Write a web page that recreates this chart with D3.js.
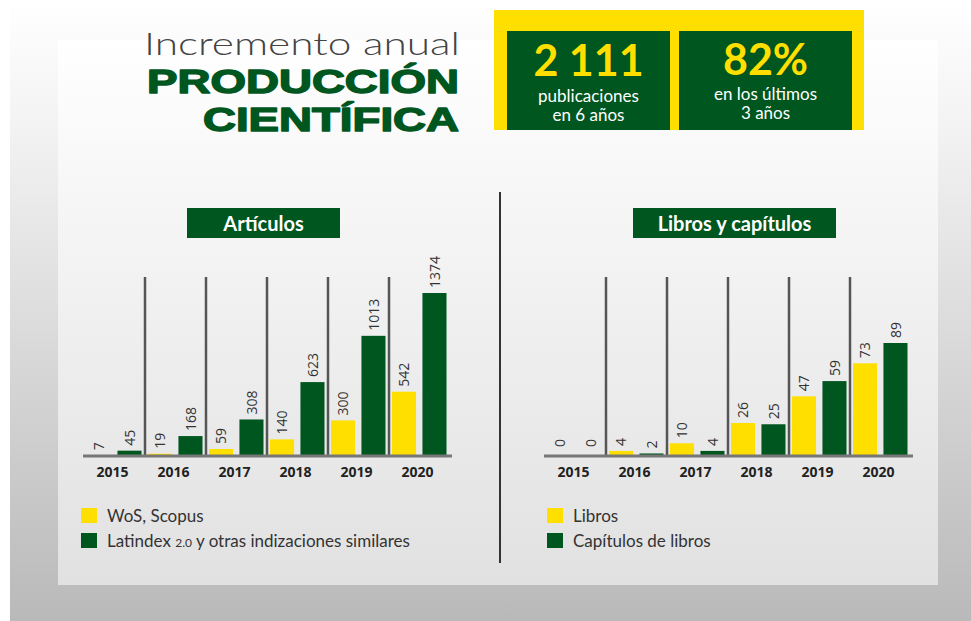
<!DOCTYPE html>
<html>
<head>
  <meta charset="utf-8">
  <title>Incremento anual - Producción científica</title>
  <script src="https://d3js.org/d3.v7.min.js"></script>
  <style>
    body { margin: 0; background: #fff; }
    svg { display: block; }
    .val { font-family: "Open Sans", sans-serif; font-size: 14px; fill: #333; }
    .year text { font-family: "Open Sans", sans-serif; font-weight: 700; font-size: 14px; fill: #222; }
    .legend { font-family: Lato, sans-serif; font-size: 17px; fill: #333; }
  </style>
</head>
<body>
  <div id="chart"></div>

  <script>
    // data
    const years = ["2015", "2016", "2017", "2018", "2019", "2020"];
    const wosScopus = [7, 19, 59, 140, 300, 542];
    const latindex = [45, 168, 308, 623, 1013, 1374];
    const libros = [0, 4, 10, 26, 47, 73];
    const capitulos = [0, 2, 4, 25, 59, 89];

    const totalPubs = "2 111";
    const growth = "82%";

    const green = "#00561f";
    const yellow = "#ffdf00";

    const width = 971, height = 621;

    const svg = d3.select("#chart")
      .append("svg")
      .attr("width", width)
      .attr("height", height);

    // background gradients
    const defs = svg.append("defs");
    const outer = defs.append("linearGradient")
      .attr("id", "outerGrad")
      .attr("gradientUnits", "userSpaceOnUse")
      .attr("x1", 0).attr("y1", 0).attr("x2", 0).attr("y2", height);
    outer.append("stop").attr("offset", 0).attr("stop-color", "#ffffff");
    outer.append("stop").attr("offset", 0.2).attr("stop-color", "#f3f3f3");
    outer.append("stop").attr("offset", 1).attr("stop-color", "#b9b9b9");

    const inner = defs.append("linearGradient")
      .attr("id", "innerGrad")
      .attr("gradientUnits", "userSpaceOnUse")
      .attr("x1", 0).attr("y1", 40).attr("x2", 0).attr("y2", 585);
    inner.append("stop").attr("offset", 0).attr("stop-color", "#ffffff");
    inner.append("stop").attr("offset", 1).attr("stop-color", "#e1e1e1");

    svg.append("rect").attr("width", width).attr("height", height).attr("fill", "#fff");
    svg.append("rect").attr("x", 10).attr("y", 0).attr("width", width - 10).attr("height", height)
      .attr("fill", "url(#outerGrad)");
    svg.append("rect").attr("x", 58).attr("y", 40).attr("width", 880).attr("height", 545)
      .attr("fill", "url(#innerGrad)");

    // header
    svg.append("text")
      .attr("x", 460).attr("y", 55)
      .attr("text-anchor", "end")
      .attr("textLength", 316).attr("lengthAdjust", "spacingAndGlyphs")
      .style("font-family", "Lato, sans-serif").style("font-weight", 300)
      .style("font-size", "31px").style("fill", "#444")
      .text("Incremento anual");

    [["PRODUCCIÓN", 93, 312], ["CIENTÍFICA", 131, 256]].forEach(function(h) {
      svg.append("text")
        .attr("x", 459).attr("y", h[1])
        .attr("text-anchor", "end")
        .attr("textLength", h[2]).attr("lengthAdjust", "spacingAndGlyphs")
        .style("font-family", "'Liberation Sans', Arial, sans-serif").style("font-weight", 700)
        .style("font-size", "33px").style("fill", green)
        .style("stroke", green).style("stroke-width", 1.4).style("stroke-linejoin", "round")
        .text(h[0]);
    });

    // stat boxes
    svg.append("rect").attr("x", 494).attr("y", 10).attr("width", 370).attr("height", 120).attr("fill", yellow);
    const stats = [
      { x: 507, w: 163, big: totalPubs, by: 76, lines: ["publicaciones", "en 6 años"], ly: [102, 121] },
      { x: 679, w: 173, big: growth, by: 75, lines: ["en los últimos", "3 años"], ly: [100, 119] }
    ];
    stats.forEach(function(s) {
      svg.append("rect").attr("x", s.x).attr("y", 31).attr("width", s.w).attr("height", 99).attr("fill", green);
      svg.append("text")
        .attr("x", s.x + s.w / 2).attr("y", s.by)
        .attr("text-anchor", "middle")
        .style("font-family", "Lato, sans-serif").style("font-weight", 700)
        .style("font-size", "43px").style("fill", yellow)
        .text(s.big);
      s.lines.forEach(function(l, i) {
        svg.append("text")
          .attr("x", s.x + s.w / 2).attr("y", s.ly[i])
          .attr("text-anchor", "middle")
          .style("font-family", "Lato, sans-serif")
          .style("font-size", "17px").style("fill", "#fff")
          .text(l);
      });
    });

    // middle divider
    svg.append("line")
      .attr("x1", 500).attr("x2", 500).attr("y1", 192).attr("y2", 563)
      .attr("stroke", "#333").attr("stroke-width", 2);

    const axisY = 456;

    function drawPanel(cfg) {
      const g = svg.append("g");

      const x0 = d3.scaleBand()
        .domain(years)
        .range([cfg.left, cfg.left + years.length * 61]);

      const x1 = d3.scaleBand()
        .domain([0, 1])
        .range([3, 57.5])
        .paddingInner(0.21);

      const y = d3.scaleLinear()
        .domain([0, d3.max(cfg.series[1])])
        .range([axisY, axisY - cfg.plotH]);

      // title box
      g.append("rect")
        .attr("x", cfg.titleX).attr("y", 208)
        .attr("width", cfg.titleW).attr("height", 30)
        .attr("fill", green);
      g.append("text")
        .attr("x", cfg.titleX + cfg.titleW / 2).attr("y", 231)
        .attr("text-anchor", "middle")
        .style("font-family", "Lato, sans-serif").style("font-weight", 700)
        .style("font-size", "20px").style("fill", "#fff")
        .text(cfg.title);

      // separators between years
      g.selectAll(".sep")
        .data(years.slice(1))
        .enter()
        .append("line")
        .attr("class", "sep")
        .attr("x1", d => x0(d)).attr("x2", d => x0(d))
        .attr("y1", 277).attr("y2", axisY)
        .attr("stroke", "#555").attr("stroke-width", 2.5);

      const rows = years.map((yr, i) => ({ year: yr, vals: [cfg.series[0][i], cfg.series[1][i]] }));

      const grp = g.selectAll(".grp")
        .data(rows)
        .enter()
        .append("g")
        .attr("class", "grp")
        .attr("transform", d => "translate(" + x0(d.year) + ",0)");

      const cells = grp.selectAll(".cell")
        .data(d => d.vals.map((v, k) => ({ k: k, v: v })))
        .enter();

      cells.append("rect")
        .attr("x", d => x1(d.k))
        .attr("y", d => y(d.v))
        .attr("width", x1.bandwidth())
        .attr("height", d => axisY - y(d.v))
        .attr("fill", d => d.k === 0 ? yellow : green);

      cells.append("text")
        .attr("class", "val")
        .attr("transform", d => "translate(" + (x1(d.k) + x1.bandwidth() / 2) + "," + (y(d.v) - (d.v === 0 ? 9 : 5)) + ") rotate(-90)")
        .attr("dy", "0.36em")
        .text(d => d.v);

      // x axis
      const ax = g.append("g")
        .attr("class", "year")
        .attr("transform", "translate(-2," + axisY + ")")
        .call(d3.axisBottom(x0).tickSize(0).tickSizeOuter(0).tickPadding(11));
      ax.select(".domain")
        .attr("stroke", "#777").attr("stroke-width", 3)
        .attr("transform", "translate(1,0)")
        .attr("d", "M" + (cfg.left) + ",0H" + (cfg.left + years.length * 61 + 3));

      // legend
      cfg.legend.forEach(function(lbl, i) {
        g.append("rect")
          .attr("x", cfg.legendX).attr("y", 508 + i * 25)
          .attr("width", 16).attr("height", 15)
          .attr("fill", i === 0 ? yellow : green);
        const t = g.append("text")
          .attr("class", "legend")
          .attr("x", cfg.legendX + 26).attr("y", 522 + i * 25);
        if (Array.isArray(lbl)) {
          t.append("tspan").text(lbl[0]);
          t.append("tspan").style("font-size", "12px").text(lbl[1]);
          t.append("tspan").text(lbl[2]);
        } else {
          t.text(lbl);
        }
      });
    }

    drawPanel({
      left: 84,
      plotH: 163,
      series: [wosScopus, latindex],
      title: "Artículos",
      titleX: 187, titleW: 153,
      legendX: 81,
      legend: ["WoS, Scopus", ["Latindex ", "2.0", " y otras indizaciones similares"]]
    });

    drawPanel({
      left: 545,
      plotH: 113,
      series: [libros, capitulos],
      title: "Libros y capítulos",
      titleX: 633, titleW: 203,
      legendX: 547,
      legend: ["Libros", "Capítulos de libros"]
    });
  </script>
</body>
</html>
